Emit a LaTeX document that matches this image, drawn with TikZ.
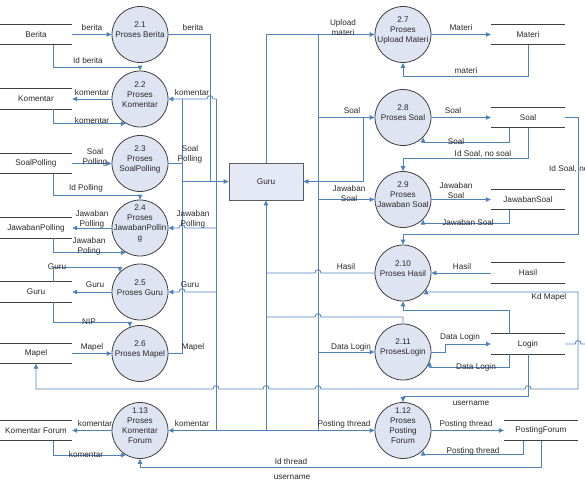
\documentclass[tikz,border=0pt]{standalone}
\usepackage{fontspec}
\setmainfont{Liberation Sans}
\usetikzlibrary{arrows.meta,calc}
\definecolor{lb}{RGB}{79,129,189}
\definecolor{cf}{RGB}{222,228,242}
\definecolor{cb}{RGB}{64,64,64}
\definecolor{tx}{RGB}{40,40,40}
\newcommand\hopR[2]{-- ({#1-3},#2) .. controls ({#1-3},{#2-4.5}) and ({#1+3},{#2-4.5}) .. ({#1+3},#2)}
\newcommand\hopL[2]{-- ({#1+3},#2) .. controls ({#1+3},{#2-4.5}) and ({#1-3},{#2-4.5}) .. ({#1-3},#2)}
\begin{document}
\begin{tikzpicture}[x=1pt,y=-1pt,
  font=\fontsize{8.2}{10}\selectfont, text=tx,
  proc/.style={circle,draw=cb,fill=cf,line width=0.8pt,minimum size=56pt,inner sep=0pt},
  ptext/.style={align=center,inner sep=0pt,yshift=4.5pt},
  ent/.style={rectangle,draw=cb!85,fill=cf!80,line width=0.8pt,minimum width=74pt,minimum height=37pt,inner sep=0pt},
  store/.style={minimum width=#1,minimum height=20pt,inner sep=0pt},
  store/.default=72pt,
  sline/.style={draw=cb,line width=0.9pt},
  bus/.style={draw=lb,line width=0.8pt},
  flow/.style={bus,-{Triangle[length=5pt,width=4.5pt]}},
  flowb/.style={bus,{Triangle[length=5pt,width=4.5pt]}-{Triangle[length=5pt,width=4.5pt]}},
  lbl/.style={inner sep=0pt,align=center}]
\useasboundingbox (0,0) rectangle (585,481);

% ---------- stores ----------
\node[store] (sb) at (36,34.5) {Berita};
\node[store] (sk) at (36,99) {Komentar};
\node[store] (ssp) at (36,163.5) {SoalPolling};
\node[store] (sjp) at (36,228) {JawabanPolling};
\node[store] (sg) at (36,292) {Guru};
\node[store] (sm) at (36,353.5) {Mapel};
\node[store] (skf) at (36,430.5) {Komentar Forum};
\node[store=74pt] (smat) at (528,34.5) {Materi};
\node[store=74pt] (ssoal) at (528,117.5) {Soal};
\node[store=74pt] (sjs) at (528,199.5) {JawabanSoal};
\node[store=74pt] (sh) at (528,273) {Hasil};
\node[store=74pt] (slog) at (528,344) {Login};
\node[store=74pt] (spf) at (541,430.5) {PostingForum};
\foreach \s in {sb,sk,ssp,sjp,sg,sm,skf,smat,ssoal,sjs,sh,slog,spf}{
  \draw[sline] (\s.north west) -- (\s.north east) (\s.south west) -- (\s.south east);
}

% ---------- processes ----------
\node[proc] (c21) at (140,34.5) {};
\node[proc] (c22) at (140,99) {};
\node[proc] (c23) at (140,163.5) {};
\node[proc] (c24) at (140,228) {};
\node[proc] (c25) at (140,292) {};
\node[proc] (c26) at (140,353.5) {};
\node[proc] (c113) at (140,430.5) {};
\node[proc] (c27) at (403,34.5) {};
\node[proc] (c28) at (403,117.5) {};
\node[proc] (c29) at (403,199.5) {};
\node[proc] (c210) at (403,273) {};
\node[proc] (c211) at (403,352) {};
\node[proc] (c112) at (403,430.5) {};
\node[ptext] (t21) at (c21) {2.1\\Proses Berita};
\node[ptext] (t22) at (c22) {2.2\\Proses\\Komentar};
\node[ptext] (t23) at (c23) {2.3\\Proses\\SoalPolling};
\node[ptext] (t24) at (c24) {2.4\\Proses\\JawabanPollin\\g};
\node[ptext] (t25) at (c25) {2.5\\Proses Guru};
\node[ptext] (t26) at (c26) {2.6\\Proses Mapel};
\node[ptext] (t113) at (c113) {1.13\\Proses\\Komentar\\Forum};
\node[ptext] (t27) at (c27) {2.7\\Proses\\Upload Materi};
\node[ptext] (t28) at (c28) {2.8\\Proses Soal};
\node[ptext] (t29) at (c29) {2.9\\Proses\\Jawaban Soal};
\node[ptext] (t210) at (c210) {2.10\\Proses Hasil};
\node[ptext] (t211) at (c211) {2.11\\ProsesLogin};
\node[ptext] (t112) at (c112) {1.12\\Proses\\Posting\\Forum};

\node[ent] (guru) at (266,181.5) {Guru};

% ---------- left flows ----------
\draw[flow] (sb.east) -- (c21.west);
\draw[flow] ([xshift=17pt]sb.south) -- (53,67) -| (c22.north);
\draw[flow] (c22.west) -- (sk.east);
\draw[flow] ([xshift=17pt]sk.south) |- (c22.240);
\draw[flow] (ssp.east) -- (c23.west);
\draw[flow] ([xshift=17pt]ssp.south) -- (53,195) -| (c24.north);
\draw[flow] (c24.west) -- (sjp.east);
\draw[flow] ([xshift=17pt]sjp.south) |- (c24.240);
\draw[flow] ([xshift=17pt]sg.north) -- (53,267) -| (c25.north west);
\draw[flow] (c25.west) -- (sg.east);
\draw[flow] ([xshift=17pt]sg.south) -- (53,322) -| (c26.111);
\draw[flow] (sm.east) -- (c26.west);
\draw[flow] (c113.west) -- (skf.east);
\draw[flow] ([xshift=17pt]skf.south) |- (c113.240);

% ---------- buses around Guru ----------
\draw[flow] (c21.east) -- (210,34.5) -- (210,181.5) -- (guru.west);
\draw[bus] (182,99) -- (182,353.5);
\draw[bus] (182,181.5) -- (210,181.5);
\draw[bus] (c23.east) -- (182,163.5);
\draw[bus] (c26.east) -- (182,353.5);
\draw[bus] (216,99) -- (216,430.5);
\draw[flow] (216,99) \hopL{210}{99} -- (c22.east);
\draw[flow] (216,228) \hopL{182}{228} -- (c24.east);
\draw[flow] (216,292) \hopL{182}{292} -- (c25.east);
\draw[flowb] (c113.east) -- (c112.west);
\draw[flow] (266,430.5) -- (guru.south);
\draw[bus] (c210.west) \hopL{318}{273} -- (266,273);
\draw[bus] (c211.north) -- (403,317) \hopL{318}{317} -- (266,317);
\draw[bus] (318,34.5) -- (318,430.5);
\draw[flow] (guru.north) -- (266,34.5) -- (c27.west);
\draw[flow] (318,117.5) -- (c28.west);
\draw[flow] (363,117.5) -- (363,181.5) -- (guru.east);
\draw[flow] (318,199.5) -- (c29.west);
\draw[flow] (318,352) -- (c211.west);

% ---------- right flows ----------
\draw[flow] (c27.east) -- (smat.west);
\draw[flow] (smat.south) -- (528,76) -| (c27.south);
\draw[flow] (c28.east) -- (ssoal.west);
\draw[flow] ([xshift=-19pt]ssoal.south) -- (509,142) -| (c28.315);
\draw[flow] (ssoal.south) -- (528,158) -| (c29.north);
\draw[flow] (c29.east) -- (sjs.west);
\draw[flow] ([xshift=-19pt]sjs.south) -- (509,223) -| (c29.315);
\draw[flow] (ssoal.east) -- (578,117.5) -- (578,234) -| (c210.north);
\draw[flow] (sh.west) -- (c210.east);
\draw[flowb] (c210.325) |- (578,292) -- (578,389) \hopL{528}{389} \hopL{318}{389} \hopL{266}{389} \hopL{216}{389} -- (36,389) -- (sm.south);
\draw[flow] ([xshift=-19pt]slog.north) -- (509,310) -| (c210.south);
\draw[flow] (c211.east) -- (445,352) |- (slog.west);
\draw[flow] ([xshift=-19pt]slog.south) -- (509,367) -| (c211.340);
\draw[flow] (slog.south) -- (528,396) -| (c112.north);
\draw[bus] (slog.east) \hopR{578}{344} -- (592,344);
\draw[flow] (c112.east) -- (spf.west);
\draw[flow] ([xshift=-18pt]spf.south) -- (523,454) -| (c112.315);
\draw[flow] (spf.south) -- (541,467) -| (c113.south);

% ---------- labels ----------
\node[lbl] (l1) at (92,28) {berita};
\node[lbl] (l2) at (88,61) {Id berita};
\node[lbl] (l3) at (92,93) {komentar};
\node[lbl] (l4) at (92,121) {komentar};
\node[lbl] (l5) at (95,157) {Soal\\Polling};
\node[lbl] (l6) at (86,188) {Id Polling};
\node[lbl] (l7) at (92,219) {Jawaban\\Polling};
\node[lbl] (l8) at (89,246) {Jawaban\\Poling};
\node[lbl] (l9) at (57,267) {Guru};
\node[lbl] (l10) at (95,285) {Guru};
\node[lbl] (l11) at (89,322) {NIP};
\node[lbl] (l12) at (92,347) {Mapel};
\node[lbl] (l13) at (95,424) {komentar};
\node[lbl] (l14) at (86,455) {komentar};
\node[lbl] (l15) at (193,28) {berita};
\node[lbl] (l16) at (192,93) {komentar};
\node[lbl] (l17) at (190,154) {Soal\\Polling};
\node[lbl] (l18) at (193,219) {Jawaban\\Polling};
\node[lbl] (l19) at (190,285) {Guru};
\node[lbl] (l20) at (193,347) {Mapel};
\node[lbl] (l21) at (192,424) {komentar};
\node[lbl] (l22) at (343,28) {Upload\\materi};
\node[lbl] (l23) at (352,111) {Soal};
\node[lbl] (l24) at (349,194) {Jawaban\\Soal};
\node[lbl] (l25) at (346,267) {Hasil};
\node[lbl] (l26) at (351,347) {Data Login};
\node[lbl] (l27) at (344,424) {Posting thread};
\node[lbl] (l28) at (461,28) {Materi};
\node[lbl] (l29) at (466,71) {materi};
\node[lbl] (l30) at (453,111) {Soal};
\node[lbl] (l31) at (456,142) {Soal};
\node[lbl] (l32) at (483,154) {Id Soal, no soal};
\node[lbl] (l33) at (456,191) {Jawaban\\Soal};
\node[lbl] (l34) at (468,223) {Jawaban Soal};
\node[lbl,anchor=west] (l35) at (549,169) {Id Soal, no soal};
\node[lbl] (l36) at (462,267) {Hasil};
\node[lbl] (l37) at (549,297) {Kd Mapel};
\node[lbl] (l38) at (460,337) {Data Login};
\node[lbl] (l39) at (476,367) {Data Login};
\node[lbl] (l40) at (471,403) {username};
\node[lbl] (l41) at (466,424) {Posting thread};
\node[lbl] (l42) at (473,451) {Posting thread};
\node[lbl] (l43) at (291,462) {Id thread};
\node[lbl] (l44) at (292,477) {username};
\end{tikzpicture}
\end{document}
